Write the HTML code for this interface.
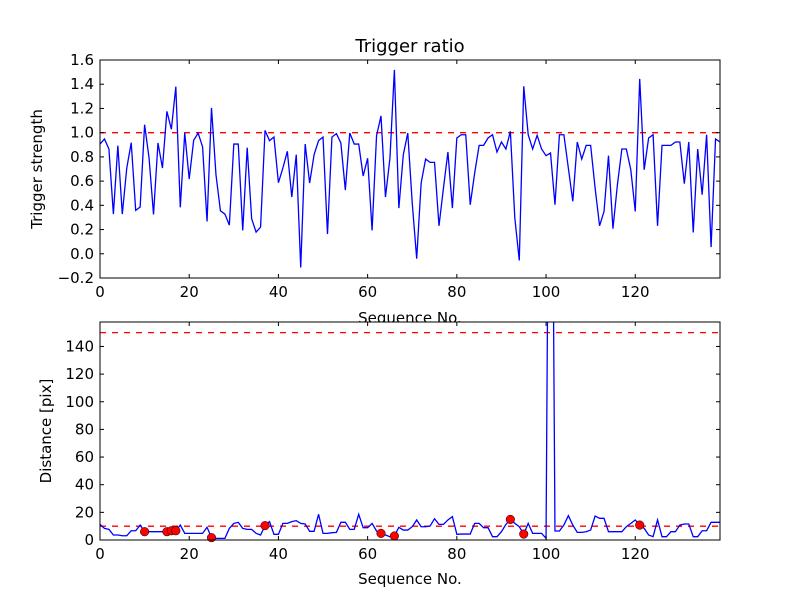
<!DOCTYPE html>
<html><head><meta charset="utf-8"><style>
body{margin:0;background:#fff}
svg text{font-family:"DejaVu Sans","Liberation Sans",sans-serif;fill:#000}
</style></head><body>
<svg id="fig" width="800" height="600" xmlns="http://www.w3.org/2000/svg"></svg>
<script>
const ratio=[0.906,0.948,0.865,0.328,0.893,0.328,0.708,0.917,0.358,0.386,1.066,0.79,0.325,0.915,0.708,1.176,1.028,1.38,0.383,0.997,0.617,0.937,0.997,0.882,0.267,1.204,0.653,0.355,0.328,0.237,0.906,0.906,0.193,0.876,0.289,0.179,0.22,1.019,0.934,0.964,0.587,0.708,0.846,0.468,0.818,-0.113,0.906,0.584,0.818,0.934,0.964,0.163,0.964,0.992,0.915,0.526,0.997,0.906,0.906,0.642,0.788,0.193,0.975,1.138,0.468,0.788,1.518,0.377,0.818,0.997,0.42,-0.041,0.584,0.782,0.755,0.755,0.231,0.543,0.84,0.377,0.956,0.983,0.983,0.405,0.667,0.895,0.895,0.956,0.983,0.84,0.923,0.865,1.011,0.295,-0.055,1.383,0.983,0.865,0.978,0.865,0.81,0.832,0.405,0.983,0.983,0.708,0.433,0.923,0.782,0.895,0.895,0.543,0.231,0.35,0.81,0.207,0.57,0.865,0.865,0.694,0.35,1.444,0.694,0.956,0.983,0.231,0.895,0.895,0.895,0.923,0.923,0.579,0.923,0.176,0.865,0.488,0.983,0.055,0.948,0.923];
const dist=[11.3,8.4,7.7,3.6,3.6,3.1,3.1,6.7,6.7,10.8,6,6,6,6,6,6,6.7,6.7,10.8,4.8,4.8,4.8,4.8,4.8,9.2,1.7,1.2,1.2,1.2,8.4,12,12.8,8.4,7.7,7.7,4.8,3.6,10.4,13.3,4.1,4.1,12,12,13.3,14,12,11.6,6.3,6.3,18.6,4.8,4.8,5.3,5.5,12.8,12.8,7.7,7.7,18.6,8.9,8.9,12,6.5,4.8,3.6,2.4,2.9,9.2,7.2,7.2,9.6,14.5,9.6,9.6,10.1,15.4,11.3,11.3,14.5,16.9,4.1,4.3,4.3,4.3,12,12,8.9,8.9,2.4,2.4,6,11.3,14.9,12,9.6,4.3,12,4.8,4.8,4.8,1.2,500,6.5,6.5,10.8,17.6,10.8,5.5,5.5,6,7.2,17.3,15.7,15.7,6,6,6,6,9.6,12,14.5,10.8,8.4,3.6,2.4,14.5,2.4,2.4,6,6,10.8,11.6,11.6,2.4,2.4,6.7,6.7,12.8,12.8,12.8];
const markerIdx=[10,15,16,17,25,37,63,66,92,95,121];
const topYTicks=[-0.2,0.0,0.2,0.4,0.6,0.8,1.0,1.2,1.4,1.6];
const botYTicks=[0,20,40,60,80,100,120,140];
const xTicks=[0,20,40,60,80,100,120];
const ratioThreshold=1.0, distThresholds=[10,150];

const NS="http://www.w3.org/2000/svg", svg=document.getElementById('fig');
function el(t,a,p){const e=document.createElementNS(NS,t);for(const k in a)e.setAttribute(k,a[k]);(p||svg).appendChild(e);return e;}
const L=100,R=720,XMAX=139;
const xs=v=>L+(R-L)*v/XMAX;
function panel(top,bot,ymin,ymax,name){
  const ys=v=>bot-(bot-top)*(v-ymin)/(ymax-ymin);
  const g=el('g',{});
  
  
  el('rect',{x:L,y:top,width:R-L,height:bot-top,fill:'#fff'},g);
  const cid='c'+name;
  const cp=el('clipPath',{id:cid},g);el('rect',{x:L,y:top,width:R-L,height:bot-top},cp);
  const plot=el('g',{'clip-path':`url(#${cid})`},g);
  return {g,plot,ys,top,bot};
}
function frame(P,yt,fmt){
  const g=P.g;
  xTicks.forEach(t=>{const x=xs(t);
    el('line',{x1:x,x2:x,y1:P.bot,y2:P.bot-4,stroke:'#000'},g);
    el('line',{x1:x,x2:x,y1:P.top,y2:P.top+4,stroke:'#000'},g);
    const tx=el('text',{x:x,y:P.bot+19,'font-size':15,'text-anchor':'middle'},g);tx.textContent=t;
    
    });
  yt.forEach(t=>{const y=P.ys(t);
    el('line',{x1:L,x2:L+4,y1:y,y2:y,stroke:'#000'},g);
    el('line',{x1:R,x2:R-4,y1:y,y2:y,stroke:'#000'},g);
    const tx=el('text',{x:L-6,y:y+5,'font-size':15,'text-anchor':'end'},g);tx.textContent=fmt(t);
    
    });
  el('rect',{x:L,y:P.top,width:R-L,height:P.bot-P.top,fill:'none',stroke:'#000','stroke-width':1},g);
}
// top
const P1=panel(60,278,-0.2,1.6,'trigger-ratio-panel');
el('line',{x1:L,x2:R,y1:P1.ys(ratioThreshold),y2:P1.ys(ratioThreshold),stroke:'#f00','stroke-width':1.3,'stroke-dasharray':'6,6'},P1.plot);
const l1=el('polyline',{points:ratio.map((v,i)=>xs(i)+','+P1.ys(v)).join(' '),fill:'none',stroke:'#00f','stroke-width':1.3},P1.plot);


frame(P1,topYTicks,t=>t.toFixed(1).replace('-','\u2212'));
let t=el('text',{x:410,y:52,'font-size':18,'text-anchor':'middle'});t.textContent='Trigger ratio';

t=el('text',{x:410,y:323,'font-size':15,'text-anchor':'middle'});t.textContent='Sequence No.';

t=el('text',{x:0,y:0,'font-size':15,'text-anchor':'middle',transform:'translate(42,169) rotate(-90)'});t.textContent='Trigger strength';

// bottom
const P2=panel(322,540,0,157.7,'distance-panel');
distThresholds.forEach(d=>{const ln=el('line',{x1:L,x2:R,y1:P2.ys(d),y2:P2.ys(d),stroke:'#f00','stroke-width':1.3,'stroke-dasharray':'6,6'},P2.plot);
  });
const l2=el('polyline',{points:dist.map((v,i)=>xs(i)+','+P2.ys(v)).join(' '),fill:'none',stroke:'#00f','stroke-width':1.3},P2.plot);


markerIdx.forEach(i=>{const c=el('circle',{cx:xs(i),cy:P2.ys(dist[i]),r:4.3,fill:'#f00',stroke:'#000','stroke-width':0.5},P2.g);
  
  });
frame(P2,botYTicks,t=>String(t));
t=el('text',{x:410,y:584,'font-size':15,'text-anchor':'middle'});t.textContent='Sequence No.';

t=el('text',{x:0,y:0,'font-size':15,'text-anchor':'middle',transform:'translate(51,431) rotate(-90)'});t.textContent='Distance [pix]';

</script>
</body></html>
